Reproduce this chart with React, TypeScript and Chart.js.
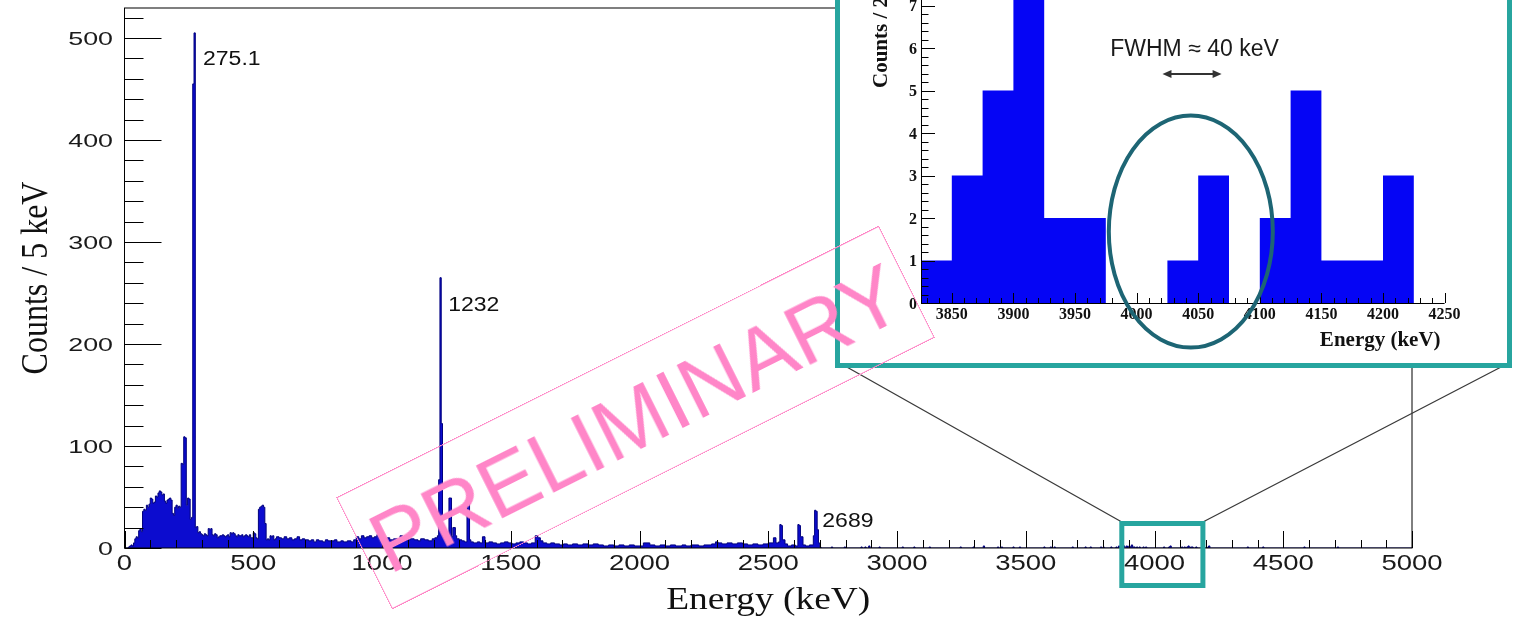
import React, { useEffect, useRef } from 'react';
import { Chart, registerables } from 'chart.js';

Chart.register(...registerables);

// ---------- Main spectrum (Counts / 5 keV) ----------
// continuum + peaks: step starts (keV) and counts held until next start
const contE = [
  0, 15, 20, 25, 30, 35, 40, 45, 50, 55, 60, 65, 70, 75, 80, 85, 90, 95, 100, 105,
  110, 115, 120, 125, 130, 135, 140, 145, 150, 155, 160, 165, 170, 175, 180, 185, 190, 195, 200, 205,
  210, 215, 220, 225, 230, 235, 240, 245, 250, 255, 260, 265, 270, 275, 280, 285, 290, 295, 300, 305,
  310, 315, 320, 325, 330, 335, 340, 345, 350, 355, 360, 365, 370, 380, 385, 390, 395, 400, 405, 410,
  415, 420, 425, 430, 435, 440, 445, 455, 460, 465, 470, 475, 480, 485, 490, 500, 505, 510, 515, 520,
  525, 530, 535, 540, 545, 550, 555, 560, 565, 570, 575, 580, 585, 590, 600, 610, 620, 630, 640, 650,
  660, 670, 680, 690, 700, 715, 725, 735, 745, 755, 770, 780, 790, 815, 825, 840, 850, 865, 880, 890,
  900, 910, 920, 930, 940, 950, 960, 970, 980, 990, 995, 1005, 1020, 1030, 1045, 1060, 1070, 1080, 1090, 1100,
  1110, 1125, 1140, 1150, 1165, 1180, 1195, 1205, 1215, 1220, 1225, 1230, 1235, 1240, 1245, 1250, 1260, 1270, 1275, 1285,
  1290, 1300, 1310, 1320, 1330, 1340, 1345, 1355, 1370, 1380, 1390, 1400, 1415, 1430, 1445, 1460, 1475, 1490, 1505, 1520,
  1535, 1550, 1565, 1580, 1595, 1605, 1615, 1625, 1640, 1655, 1670, 1690, 1705, 1720, 1740, 1760, 1780, 1800, 1820, 1840,
  1860, 1880, 1900, 1920, 1940, 1960, 1980, 2015, 2040, 2060, 2080, 2100, 2120, 2140, 2165, 2180, 2200, 2230, 2250, 2280,
  2295, 2305, 2320, 2340, 2360, 2380, 2400, 2420, 2440, 2460, 2480, 2500, 2520, 2530, 2540, 2545, 2550, 2555, 2565, 2575,
  2590, 2605, 2615, 2620, 2625, 2635, 2645, 2660, 2675, 2680, 2685, 2690, 2695, 2700, 2705,
];
const contC = [
  0, 1, 2, 3, 2, 5, 9, 11, 10, 17, 19, 16, 36, 38, 37, 42, 40, 43, 49, 48,
  44, 45, 51, 50, 54, 56, 55, 52, 53, 46, 44, 47, 48, 49, 47, 34, 32, 40, 42, 39,
  41, 40, 83, 82, 109, 108, 42, 49, 48, 28, 30, 455, 505, 20, 21, 15, 16, 14, 13, 12,
  14, 13, 12, 19, 18, 19, 13, 12, 14, 13, 10, 11, 12, 13, 12, 11, 12, 13, 11, 15,
  14, 15, 14, 12, 11, 13, 12, 13, 11, 12, 13, 12, 11, 13, 10, 15, 14, 10, 9, 38,
  40, 41, 42, 40, 24, 8, 9, 8, 12, 11, 12, 8, 9, 11, 10, 9, 11, 9, 10, 8,
  9, 11, 8, 9, 8, 7, 8, 6, 8, 7, 6, 8, 7, 8, 6, 7, 6, 7, 6, 8,
  11, 9, 12, 10, 11, 12, 10, 11, 13, 15, 11, 9, 10, 8, 9, 8, 12, 11, 10, 8,
  9, 8, 7, 9, 8, 7, 9, 10, 12, 67, 265, 122, 12, 10, 11, 9, 49, 11, 20, 12,
  9, 8, 7, 6, 44, 8, 6, 5, 6, 5, 11, 5, 6, 5, 4, 5, 6, 5, 4, 5,
  6, 5, 4, 5, 12, 10, 7, 5, 4, 5, 4, 3, 4, 3, 4, 3, 4, 3, 4, 3,
  2, 3, 2, 3, 2, 3, 2, 5, 3, 2, 3, 2, 3, 2, 3, 2, 3, 2, 3, 4,
  6, 5, 4, 5, 4, 5, 4, 3, 4, 3, 4, 5, 10, 5, 6, 23, 22, 8, 4, 2,
  3, 2, 23, 22, 11, 3, 2, 3, 12, 37, 36, 18, 5, 1, 0,
];
// sparse high-energy tail: single 5 keV bins
const tailE = [
  2745, 2795, 2860, 2875, 2890, 2930, 3020, 3065, 3125, 3245, 3295, 3335, 3390, 3405, 3450, 3475, 3570, 3595, 3610, 3680,
  3730, 3750, 3790, 3800, 3830, 3850, 3860, 3875, 3880, 3890, 3900, 3905, 3910, 3915, 3920, 3930, 3940, 3955, 3965, 4035,
  4055, 4060, 4105, 4115, 4125, 4130, 4140, 4145, 4160, 4185, 4200, 4210, 4360, 4420, 4580, 4710,
];
const tailC = [
  1, 1, 1, 1, 2, 1, 1, 1, 1, 1, 1, 2, 1, 1, 1, 1, 1, 1, 1, 1,
  1, 1, 1, 1, 1, 1, 2, 1, 2, 2, 2, 1, 3, 1, 1, 1, 1, 1, 1, 1,
  1, 2, 1, 1, 1, 2, 1, 1, 1, 1, 1, 2, 1, 1, 1, 1,
];

const xTickLabels = [0, 500, 1000, 1500, 2000, 2500, 3000, 3500, 4000, 4500, 5000];
const yTickLabels = [0, 100, 200, 300, 400, 500];
const peakLabels = ['275.1', '1232', '2689'];
const peakLabelE = [305, 1257, 2710];
const peakLabelCounts = [474, 232, 20.6];
const zoomBoxE = [3873, 4188];

// ---------- Inset (Counts / 25 keV) ----------
const insetE = [3825, 3850, 3875, 3900, 3925, 3950, 3975, 4000, 4025, 4050, 4075, 4100, 4125, 4150, 4175, 4200, 4225];
const insetC = [1, 3, 5, 8, 2, 2, 0, 0, 1, 3, 0, 2, 5, 1, 1, 3, 0];
const insetXTicks = [3850, 3900, 3950, 4000, 4050, 4100, 4150, 4200, 4250];
const insetYTicks = [0, 1, 2, 3, 4, 5, 6, 7, 8];

const SANS = '"Liberation Sans", Arial, sans-serif';
const SERIF = '"Liberation Serif", "Times New Roman", serif';
const TEAL = '#27a59f';

function txt(ctx: CanvasRenderingContext2D, s: string, x: number, y: number, font: string,
  align: CanvasTextAlign, sx = 1, rot = 0, color = '#111', baseline: CanvasTextBaseline = 'alphabetic') {
  ctx.save();
  ctx.translate(x, y);
  ctx.scale(sx, 1);
  if (rot) ctx.rotate(rot);
  ctx.font = font;
  ctx.textAlign = align;
  ctx.textBaseline = baseline;
  ctx.fillStyle = color;
  ctx.fillText(s, 0, 0);
  ctx.restore();
}

function buildMainPoints() {
  const pts: { x: number; y: number }[] = [];
  contE.forEach((e, i) => pts.push({ x: e, y: contC[i] }));
  tailE.forEach((e, i) => {
    pts.push({ x: e, y: tailC[i] });
    if (tailE[i + 1] !== e + 5) pts.push({ x: e + 5, y: 0 });
  });
  pts.push({ x: 5000, y: 0 });
  return pts;
}

const mainDecor = {
  id: 'mainDecor',
  afterDatasetsDraw(chart: any) {
    const { ctx, chartArea: a, scales } = chart;
    const x = scales.x, y = scales.y;
    ctx.save();
    ctx.strokeStyle = '#000';
    ctx.lineWidth = 1;
    ctx.strokeRect(a.left, a.top, a.right - a.left, a.bottom - a.top);
    ctx.beginPath();
    for (let v = 0; v <= 520; v += 20) {
      const py = Math.round(y.getPixelForValue(v)) + 0.5;
      ctx.moveTo(a.left, py);
      ctx.lineTo(a.left + (v % 100 === 0 ? 37 : 19), py);
    }
    for (let v = 0; v <= 5000; v += 100) {
      const px = Math.round(x.getPixelForValue(v)) + 0.5;
      ctx.moveTo(px, a.bottom);
      ctx.lineTo(px, a.bottom - (v % 500 === 0 ? 17 : 8));
    }
    ctx.stroke();

    yTickLabels.forEach((v) => {
      txt(ctx, String(v), a.left - 11.5, y.getPixelForValue(v) + 6.6, `18.5px ${SANS}`, 'right', 1.45, 0, '#1a1a1a');
    });
    xTickLabels.forEach((v) => {
      txt(ctx, String(v), x.getPixelForValue(v), a.bottom + 22, `22px ${SANS}`, 'center', 1.25, 0, '#1a1a1a');
    });
    txt(ctx, 'Energy (keV)', (a.left + a.right) / 2, 609, `32px ${SERIF}`, 'center', 1.17, 0, '#111');
    txt(ctx, 'Counts / 5 keV', 47, (a.top + a.bottom) / 2, `32px ${SERIF}`, 'center', 1.17, -Math.PI / 2, '#111');

    peakLabels.forEach((s, i) => {
      txt(ctx, s, x.getPixelForValue(peakLabelE[i]), y.getPixelForValue(peakLabelCounts[i]), `20px ${SANS}`, 'left', 1.15, 0, '#111');
    });

    // zoom box and connecting lines
    const bx0 = x.getPixelForValue(zoomBoxE[0]);
    const bx1 = x.getPixelForValue(zoomBoxE[1]);
    ctx.strokeStyle = '#3a3a3a';
    ctx.lineWidth = 1.3;
    ctx.beginPath();
    ctx.moveTo(bx0, 522); ctx.lineTo(845, 366);
    ctx.moveTo(bx1, 522); ctx.lineTo(1503, 366);
    ctx.stroke();
    ctx.strokeStyle = TEAL;
    ctx.lineWidth = 5;
    ctx.strokeRect(bx0, 523.5, bx1 - bx0, 62);
    ctx.restore();
  },
};

const insetDecor = {
  id: 'insetDecor',
  beforeDraw(chart: any) {
    const { ctx } = chart;
    ctx.save();
    ctx.fillStyle = '#fff';
    ctx.fillRect(0, 0, chart.width, chart.height);
    ctx.restore();
  },
  afterDatasetsDraw(chart: any) {
    const { ctx, chartArea: a, scales } = chart;
    const x = scales.x, y = scales.y;
    ctx.save();
    ctx.strokeStyle = '#000';
    ctx.lineWidth = 1;
    ctx.beginPath();
    ctx.moveTo(a.left + 0.5, a.top);
    ctx.lineTo(a.left + 0.5, a.bottom + 0.5);
    ctx.lineTo(a.right, a.bottom + 0.5);
    for (let k = 0; k <= 42; k++) {
      const py = Math.round(y.getPixelForValue(k / 5)) + 0.5;
      ctx.moveTo(a.left, py);
      ctx.lineTo(a.left + (k % 5 === 0 ? 14 : 7.5), py);
    }
    for (let v = 3830; v <= 4250; v += 10) {
      const px = Math.round(x.getPixelForValue(v)) + 0.5;
      ctx.moveTo(px, a.bottom);
      ctx.lineTo(px, a.bottom - (v % 50 === 0 ? 10 : 5));
    }
    ctx.stroke();

    insetYTicks.forEach((v) => {
      txt(ctx, String(v), a.left - 4, y.getPixelForValue(v) + 5.5, `bold 16px ${SERIF}`, 'right', 1, 0, '#111');
    });
    insetXTicks.forEach((v) => {
      txt(ctx, String(v), x.getPixelForValue(v), a.bottom + 15.5, `bold 16px ${SERIF}`, 'center', 1, 0, '#111');
    });
    txt(ctx, 'Energy (keV)', a.right - 4, a.bottom + 43, `bold 21px ${SERIF}`, 'right', 1, 0, '#111');
    txt(ctx, 'Counts / 25 keV', a.left - 34, a.bottom - 215, `bold 21px ${SERIF}`, 'left', 1, -Math.PI / 2, '#111');

    // ellipse around 4050 keV
    ctx.strokeStyle = '#1d6574';
    ctx.lineWidth = 4;
    ctx.beginPath();
    ctx.ellipse(x.getPixelForValue(4044), y.getPixelForValue(1.68), 82, 116, 0, 0, Math.PI * 2);
    ctx.stroke();

    // FWHM label and double arrow
    txt(ctx, 'FWHM \u2248 40 keV', x.getPixelForValue(4047), y.getPixelForValue(5.81), `23px ${SANS}`, 'center', 1, 0, '#1a1a1a');
    const ax0 = x.getPixelForValue(4021), ax1 = x.getPixelForValue(4069), ay = y.getPixelForValue(5.39);
    ctx.strokeStyle = '#333';
    ctx.fillStyle = '#333';
    ctx.lineWidth = 2;
    ctx.beginPath();
    ctx.moveTo(ax0 + 4, ay); ctx.lineTo(ax1 - 4, ay);
    ctx.stroke();
    ctx.beginPath();
    ctx.moveTo(ax0, ay); ctx.lineTo(ax0 + 9, ay - 4); ctx.lineTo(ax0 + 9, ay + 4); ctx.closePath();
    ctx.moveTo(ax1, ay); ctx.lineTo(ax1 - 9, ay - 4); ctx.lineTo(ax1 - 9, ay + 4); ctx.closePath();
    ctx.fill();

    // teal frame
    ctx.strokeStyle = TEAL;
    ctx.lineWidth = 5;
    ctx.strokeRect(2.5, 2.5, chart.width - 5, chart.height - 5);
    ctx.restore();
  },
};

export default function App() {
  const mainRef = useRef<HTMLCanvasElement>(null);
  const insetRef = useRef<HTMLCanvasElement>(null);

  useEffect(() => {
    const main = new Chart(mainRef.current!, {
      type: 'line',
      data: {
        datasets: [{
          data: buildMainPoints(),
          stepped: 'before',
          fill: 'origin',
          backgroundColor: '#0c0ccf',
          borderColor: '#00007e',
          borderWidth: 1,
          pointRadius: 0,
        }],
      },
      options: {
        responsive: false,
        animation: false,
        devicePixelRatio: 1,
        parsing: false,
        layout: { padding: { left: 0, top: 8, right: 103, bottom: 0 } },
        plugins: { legend: { display: false }, tooltip: { enabled: false } },
        scales: {
          x: {
            type: 'linear', min: 0, max: 5000,
            grid: { display: false }, border: { display: false },
            ticks: { display: false, stepSize: 500 },
            afterFit: (s: any) => { s.height = 70; },
          },
          y: {
            type: 'linear', min: 0, max: 529.4,
            grid: { display: false }, border: { display: false },
            ticks: { display: false, stepSize: 100 },
            afterFit: (s: any) => { s.width = 124.5; },
          },
        },
      } as any,
      plugins: [mainDecor],
    });

    const insetPts = insetE.map((e, i) => ({ x: e, y: insetC[i] }));
    insetPts.push({ x: 4250, y: 0 });
    const inset = new Chart(insetRef.current!, {
      type: 'line',
      data: {
        datasets: [{
          data: insetPts,
          stepped: 'before',
          fill: 'origin',
          backgroundColor: '#0505f5',
          borderColor: '#0505f5',
          borderWidth: 0,
          pointRadius: 0,
        }],
      },
      options: {
        responsive: false,
        animation: false,
        devicePixelRatio: 1,
        parsing: false,
        layout: { padding: { left: 0, top: 66, right: 67.4, bottom: 0 } },
        plugins: { legend: { display: false }, tooltip: { enabled: false } },
        scales: {
          x: {
            type: 'linear', min: 3825, max: 4250,
            grid: { display: false }, border: { display: false },
            ticks: { display: false, stepSize: 50 },
            afterFit: (s: any) => { s.height = 65; },
          },
          y: {
            type: 'linear', min: 0, max: 8.4,
            grid: { display: false }, border: { display: false },
            ticks: { display: false, stepSize: 1 },
            afterFit: (s: any) => { s.width = 86; },
          },
        },
      } as any,
      plugins: [insetDecor],
    });

    return () => { main.destroy(); inset.destroy(); };
  }, []);

  return (
    <div style={{ position: 'fixed', left: 0, top: 0, width: 1515, height: 618, overflow: 'hidden', background: '#fff' }}>
      <canvas ref={mainRef} width={1515} height={618} style={{ position: 'absolute', left: 0, top: 0 }} />
      <canvas ref={insetRef} width={677} height={488} style={{ position: 'absolute', left: 835, top: -120 }} />
      <div
        style={{
          position: 'absolute', left: 635 - 303.5, top: 417 - 62.5, width: 607, height: 125,
          transform: 'rotate(-26.6deg)', border: '1px solid #ff86c6', boxSizing: 'border-box',
          display: 'flex', alignItems: 'center', justifyContent: 'center',
          color: '#ff86c8', font: `86px ${SANS}`, lineHeight: 1, whiteSpace: 'nowrap', pointerEvents: 'none',
        }}
      >
        PRELIMINARY
      </div>
    </div>
  );
}
